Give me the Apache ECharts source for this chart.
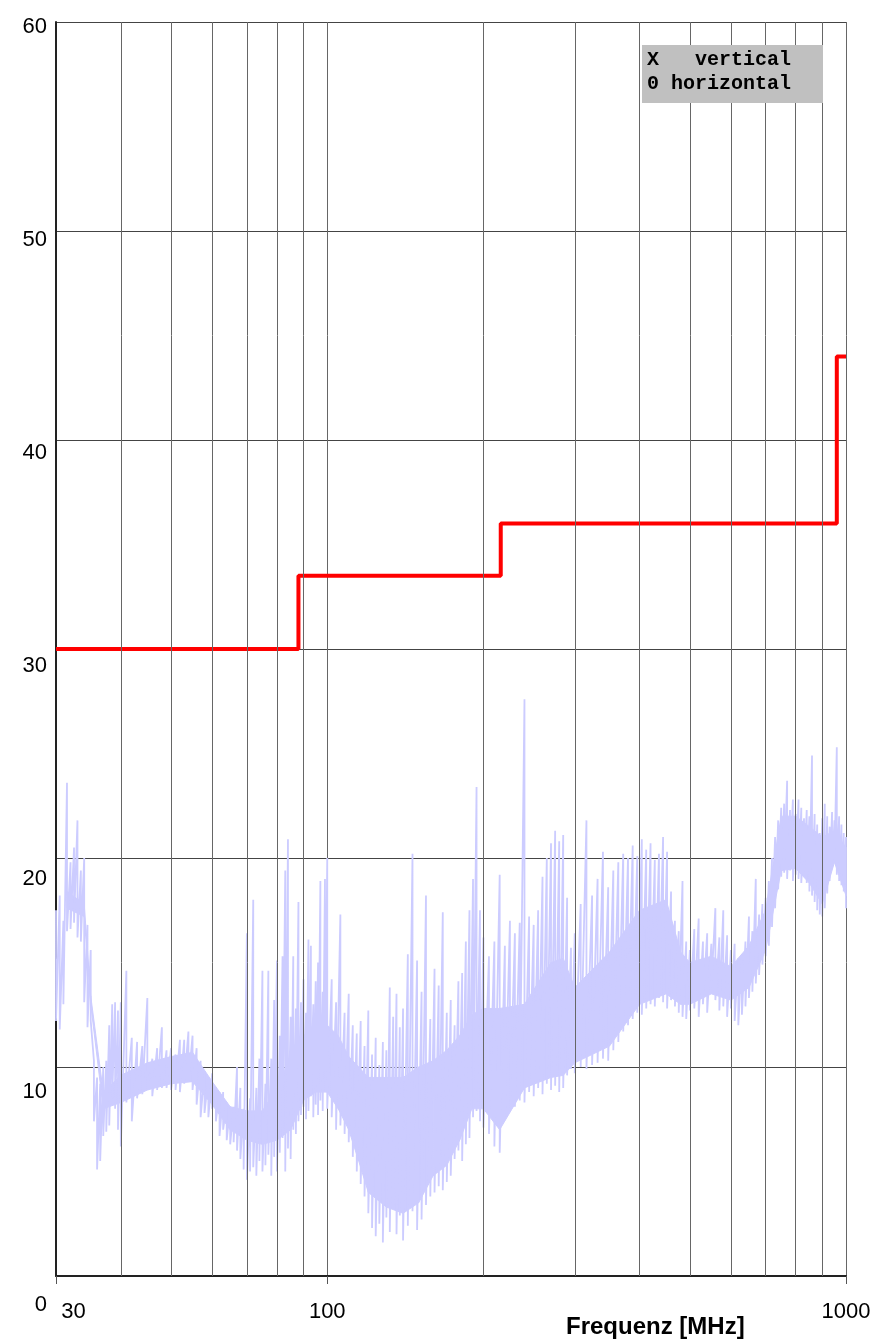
<!DOCTYPE html>
<html>
<head>
<meta charset="utf-8">
<title>Störaussendung 30 - 1000 MHz</title>
<script src="https://cdn.jsdelivr.net/npm/echarts@6/dist/echarts.min.js"></script>
<style>
  html, body { margin: 0; padding: 0; background: #fff; }
  #chart { width: 876px; height: 1340px; }
</style>
</head>
<body>
<div id="chart"></div>
<script>
// Messkurve: Frequenz [MHz], Spitzenwert und unterer Wert je Frequenzpunkt [dB]
const traceFreq = [
  30, 30.5, 31, 31.5, 32, 32.5, 33, 33.5, 34, 34.5, 35, 35.5, 36, 36.5, 37, 37.5, 38, 38.5, 39, 39.5, 40,
  41, 42, 43, 44, 45, 46, 47, 48, 49, 50, 51, 52, 53, 54, 55, 56, 57, 58, 59, 60,
  61, 62, 63, 64, 65, 66, 67, 68, 69, 70, 71, 72, 73, 74, 75, 76, 77, 78, 79, 80,
  81, 82, 83, 84, 85, 86, 87, 88, 89, 90, 91, 92, 93, 94, 95, 96, 97, 98, 99, 100,
  102, 104, 106, 108, 110, 112, 114, 116, 118, 120, 122, 124, 126, 128, 130, 132, 134, 136, 138, 140,
  143, 146, 149, 152, 155, 158, 161, 164, 167, 170, 173, 176, 179, 182, 185, 188, 191, 194, 197, 200,
  205, 210, 215, 220, 225, 230, 235, 240, 245, 250, 255, 260, 265, 270, 275, 280, 285, 290, 295, 300,
  308, 316, 324, 332, 340, 348, 356, 364, 372, 380, 388, 396, 404, 412, 420, 428, 436, 444, 452, 460, 468, 476, 484, 492, 500,
  510, 520, 530, 540, 550, 560, 570, 580, 590, 600, 610, 620, 630, 640, 650, 660, 670, 680, 690, 700,
  710, 720, 730, 740, 750, 760, 770, 780, 790, 800, 810, 820, 830, 840, 850, 860, 870, 880, 890, 900,
  910, 920, 930, 940, 950, 960, 970, 980, 990, 1000
];
const tracePeak = [
  17.5, 18.2, 17.0, 23.6, 19.8, 20.5, 21.8, 19.4, 20.0, 16.8, 15.6, 10.3, 9.5, 9.2, 10.0, 10.3, 12.0, 13.0, 13.1, 12.7, 13.1,
  14.6, 11.4, 11.2, 11.0, 13.3, 10.4, 10.9, 11.9, 10.8, 10.9, 10.6, 11.3, 11.3, 11.7, 11.5, 10.9, 10.3, 9.8, 9.5, 9.7,
  9.0, 8.8, 8.8, 8.3, 8.1, 8.1, 10.0, 9.0, 8.0, 16.4, 8.5, 18.0, 9.0, 10.4, 14.6, 9.2, 14.6, 10.4, 13.2, 15.1,
  11.5, 15.3, 19.4, 20.9, 12.4, 15.3, 12.8, 17.9, 13.1, 14.2, 12.6, 16.1, 15.8, 13.0, 14.1, 15.0, 18.9, 13.6, 19.0, 20.0,
  14.2, 13.1, 17.3, 12.6, 13.5, 12.0, 11.6, 12.2, 11.0, 12.7, 10.6, 11.4, 10.1, 11.2, 10.8, 13.8, 12.4, 13.5, 11.9, 12.8,
  15.4, 20.2, 15.1, 13.6, 18.2, 12.3, 14.7, 13.9, 17.4, 12.6, 13.2, 12.0, 14.1, 14.5, 16.0, 17.5, 19.0, 23.4, 17.5, 16.2,
  15.3, 16.0, 19.2, 15.8, 17.0, 16.4, 16.9, 27.6, 17.2, 16.8, 17.5, 19.1, 20.0, 20.7, 21.3, 20.8, 21.1, 18.1, 15.7, 16.4,
  17.8, 21.8, 18.2, 19.0, 20.3, 18.6, 19.4, 19.8, 20.2, 20.0, 20.6, 20.1, 20.9, 20.4, 20.7, 19.9, 20.2, 21.0, 20.3, 18.4, 17.0, 16.5, 18.9, 16.0, 15.6,
  16.6, 17.1, 16.0, 16.4, 15.9, 17.6, 16.2, 17.5, 16.3, 15.6, 15.9, 15.2, 15.4, 16.0, 17.2, 16.5, 19.0, 17.3, 17.8, 18.1,
  18.9, 20.0, 21.0, 21.8, 22.4, 22.6, 23.7, 22.3, 22.8, 22.1, 22.8, 22.4, 21.9, 22.3, 22.0, 24.9, 22.1, 21.6, 21.2, 21.9,
  22.6, 22.0, 21.5, 22.2, 21.8, 25.3, 22.0, 21.6, 21.2, 21.0
];
const traceFloor = [
  12.2, 11.8, 13.0, 16.5, 16.6, 16.9, 16.2, 16.0, 13.1, 11.9, 12.2, 7.4, 5.1, 5.5, 6.7, 6.9, 7.2, 8.5, 8.0, 7.0, 6.2,
  8.3, 7.4, 8.5, 8.7, 8.9, 8.6, 8.9, 9.0, 9.0, 8.9, 8.9, 8.8, 9.2, 9.3, 8.9, 8.2, 7.6, 7.8, 7.6, 8.0,
  7.4, 6.7, 7.0, 6.5, 6.3, 6.4, 6.0, 5.6, 5.1, 4.6, 5.0, 5.2, 4.8, 5.5, 5.0, 5.3, 5.8, 4.8, 5.7, 5.0,
  5.9, 6.6, 5.0, 6.1, 5.6, 7.0, 6.8, 7.4, 7.7, 8.1, 7.5, 7.9, 8.6, 7.6, 8.2, 7.7, 8.4, 7.9, 8.8, 8.0,
  7.6, 7.0, 7.2, 6.8, 6.4, 5.7, 5.0, 4.4, 3.8, 3.0, 2.3, 1.9, 2.5, 1.6, 2.8, 2.1, 3.3, 2.0, 2.9, 1.7,
  2.4, 3.1, 2.2, 2.7, 3.4, 3.8, 4.0, 4.3, 4.1, 4.5, 4.8, 5.6, 6.0, 5.5, 6.3, 6.6, 7.6, 7.9, 7.4, 7.1,
  6.8, 6.2, 5.9, 7.5, 8.0, 8.1, 8.4, 8.3, 8.8, 8.6, 9.0, 8.7, 9.2, 8.9, 9.1, 8.8, 9.0, 9.6, 9.9, 9.7,
  10.0, 9.9, 10.1, 10.2, 10.4, 10.3, 10.8, 11.2, 11.7, 12.0, 12.3, 12.6, 12.5, 12.8, 13.0, 12.9, 13.3, 13.1, 12.8, 13.2, 12.9, 12.6, 12.4, 12.3, 12.7,
  12.8, 12.4, 13.0, 12.6, 13.8, 13.2, 12.7, 12.9, 12.4, 12.8, 12.2, 12.0, 12.5, 12.9, 13.3, 13.6, 14.0, 14.4, 14.9, 15.3,
  15.8, 16.7, 17.6, 18.5, 19.1, 19.3, 19.0, 19.4, 18.9, 19.2, 19.0, 18.8, 19.3, 18.8, 18.4, 18.2, 17.9, 17.5, 17.3, 17.2,
  17.6, 18.3, 18.9, 19.5, 19.8, 19.2, 18.9, 18.7, 18.4, 17.6
];

// dicht gefuellter Kern der Messkurve (unterer / oberer Rand)
const coreFreq = [
  31.5, 34, 35, 37, 40, 45, 50, 55, 60, 65, 70, 75, 80, 85, 90, 95, 100, 105, 110, 115,
  120, 130, 140, 150, 160, 170, 180, 190, 200, 215, 240, 270, 285, 300, 350, 400, 450, 480, 500,
  550, 600, 650, 700, 750, 800, 850, 900, 950, 1000
];
const coreLow = [
  17.6, 17.2, 13.0, 8.0, 8.3, 8.9, 9.2, 9.3, 8.2, 7.0, 6.5, 6.3, 6.5, 7.0, 8.4, 8.8, 8.8, 8.0, 7.0, 5.5,
  4.0, 3.3, 3.0, 3.5, 4.8, 5.3, 6.5, 8.0, 8.0, 7.0, 9.0, 9.5, 9.6, 10.2, 11.0, 13.0, 13.5, 13.0, 13.0,
  13.5, 13.2, 13.8, 15.6, 19.4, 19.5, 18.8, 17.8, 19.8, 18.2
];
const coreHigh = [
  18.4, 17.8, 13.4, 8.8, 9.6, 10.2, 10.5, 10.7, 9.3, 8.1, 7.9, 7.9, 9.0, 10.5, 11.5, 12.0, 12.0, 11.5, 10.5, 10.0,
  9.5, 9.5, 9.5, 10.0, 10.3, 10.8, 11.5, 12.5, 12.8, 12.8, 13.0, 15.0, 15.2, 13.8, 15.5, 17.5, 18.0, 15.5, 15.0,
  15.3, 14.8, 15.8, 17.5, 22.0, 22.0, 21.5, 21.0, 21.3, 20.5
];

// Grenzwert (Stufen)
const limitFreq = [30, 88, 216, 960, 1000];
const limitLevel = [30, 33.5, 36, 44, 44];

// Zwischenlinien des log. Rasters und beschriftete Frequenzen
const gridFreqs = [40, 50, 60, 70, 80, 90, 200, 300, 400, 500, 600, 700, 800, 900];
const xTickLabels = [30, 100, 1000];
const yMin = 0, yMax = 60, yStep = 10;

const legendLines = ['X   vertical', '0 horizontal'];

const FONT = 'Liberation Sans, Arial, sans-serif';
const TRACE = '#ccccff';

// Zickzack: je Frequenzpunkt Spitze und unterer Wert
const traceData = [];
traceFreq.forEach((f, i) => {
  traceData.push([f, tracePeak[i]]);
  traceData.push([f, traceFloor[i]]);
});
const limitData = limitFreq.map((f, i) => [f, limitLevel[i]]);

// Kern als Band zwischen zwei Nachbarpunkten
function renderCore(params, api) {
  const i = params.dataIndex;
  if (i >= coreFreq.length - 1) return null;
  const pts = [
    api.coord([coreFreq[i], coreLow[i]]),
    api.coord([coreFreq[i + 1], coreLow[i + 1]]),
    api.coord([coreFreq[i + 1], coreHigh[i + 1]]),
    api.coord([coreFreq[i], coreHigh[i]])
  ];
  return {
    type: 'polygon',
    shape: { points: pts },
    style: { fill: TRACE, stroke: TRACE, lineWidth: 1 }
  };
}

const chart = echarts.init(document.getElementById('chart'));

chart.setOption({
  animation: false,
  backgroundColor: '#fff',
  title: {
    text: 'Frequenz [MHz]',
    left: 566,
    top: 1315,
    padding: 0,
    textStyle: { fontFamily: FONT, fontSize: 24, fontWeight: 'bold', color: '#000' }
  },
  grid: [
    { left: 56, right: 30, top: 22, bottom: 64 },
    // nur fuer die y-Beschriftung (leicht gestreckt wie im Original)
    { left: 56, right: 30, top: 27, bottom: 35 }
  ],
  xAxis: [
    {
      gridIndex: 0,
      type: 'log',
      logBase: 10,
      min: 30,
      max: 1000,
      axisLine: { show: true, onZero: false, lineStyle: { color: '#222', width: 2 } },
      axisTick: { show: true, length: 8, lineStyle: { color: '#555' } },
      splitLine: { show: true, lineStyle: { color: '#666', width: 1 } },
      axisLabel: {
        margin: 25,
        fontFamily: FONT,
        fontSize: 22,
        color: '#000',
        formatter: v => {
          if (!xTickLabels.includes(v)) return '';
          return v === xTickLabels[0] ? '{first|' + v + '}' : String(v);
        },
        rich: {
          first: { fontFamily: FONT, fontSize: 22, color: '#000', padding: [0, 0, 0, 35] }
        }
      }
    },
    { gridIndex: 1, type: 'value', min: 0, max: 1, show: false }
  ],
  yAxis: [
    {
      gridIndex: 0,
      type: 'value',
      min: yMin,
      max: yMax,
      interval: yStep,
      axisLine: { show: true, lineStyle: { color: '#222', width: 2 } },
      axisTick: { show: false },
      splitLine: { show: true, lineStyle: { color: '#444', width: 1 } },
      axisLabel: { show: false }
    },
    {
      gridIndex: 1,
      type: 'value',
      min: yMin,
      max: yMax,
      interval: yStep,
      axisLine: { show: false },
      axisTick: { show: false },
      splitLine: { show: false },
      axisLabel: { margin: 9, fontFamily: FONT, fontSize: 22, color: '#000' }
    }
  ],
  graphic: [
    { type: 'rect', shape: { x: 642, y: 45, width: 181, height: 58 }, style: { fill: '#c0c0c0' }, z: 10 },
    {
      type: 'text', x: 647, y: 60, z: 11,
      style: { text: legendLines[0], font: 'bold 20px "Liberation Mono", "Courier New", monospace', fill: '#000', verticalAlign: 'middle' }
    },
    {
      type: 'text', x: 647, y: 84, z: 11,
      style: { text: legendLines[1], font: 'bold 20px "Liberation Mono", "Courier New", monospace', fill: '#000', verticalAlign: 'middle' }
    }
  ],
  series: [
    {
      name: 'raster',
      type: 'line',
      xAxisIndex: 0,
      yAxisIndex: 0,
      data: [],
      z: 1,
      silent: true,
      markLine: {
        silent: true,
        symbol: ['none', 'none'],
        label: { show: false },
        lineStyle: { color: '#666', width: 1, type: 'solid' },
        data: gridFreqs.map(f => ({ xAxis: f }))
      }
    },
    {
      name: 'kern',
      type: 'custom',
      xAxisIndex: 0,
      yAxisIndex: 0,
      data: coreFreq.map((f, i) => [f, coreLow[i], coreHigh[i]]),
      encode: { x: 0, y: [1, 2] },
      renderItem: renderCore,
      silent: true,
      z: 2
    },
    {
      name: 'Messung',
      type: 'line',
      xAxisIndex: 0,
      yAxisIndex: 0,
      data: traceData,
      showSymbol: false,
      z: 3,
      lineStyle: { color: TRACE, width: 1.8, join: 'bevel' }
    },
    {
      name: 'Grenzwert',
      type: 'line',
      xAxisIndex: 0,
      yAxisIndex: 0,
      step: 'end',
      data: limitData,
      showSymbol: false,
      z: 4,
      lineStyle: { color: '#ff0000', width: 4 }
    }
  ]
});
</script>
</body>
</html>
